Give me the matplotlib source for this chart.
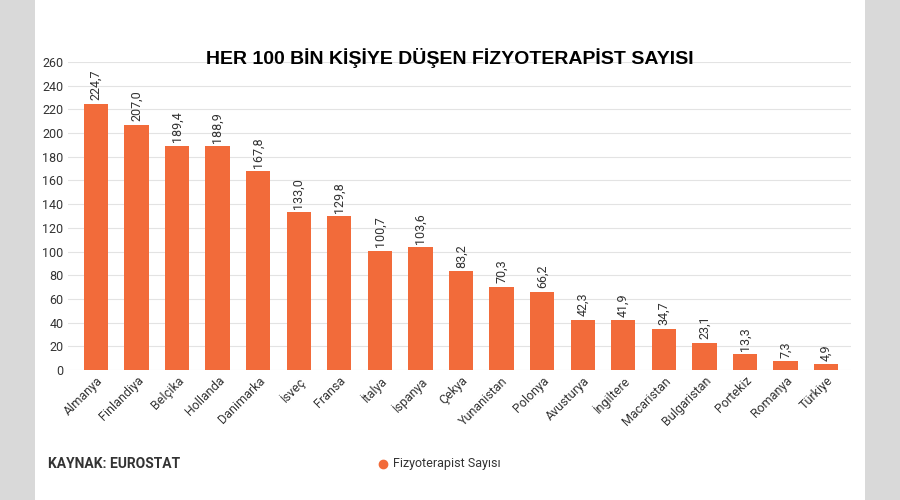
import matplotlib
matplotlib.use("Agg")
import matplotlib.pyplot as plt
from matplotlib.patches import Rectangle
from matplotlib.lines import Line2D

countries = ["Almanya", "Finlandiya", "Belçika", "Hollanda", "Danimarka", "İsveç",
             "Fransa", "İtalya", "İspanya", "Çekya", "Yunanistan", "Polonya",
             "Avusturya", "İngiltere", "Macaristan", "Bulgaristan", "Portekiz",
             "Romanya", "Türkiye"]
values = [224.7, 207.0, 189.4, 188.9, 167.8, 133.0, 129.8, 100.7, 103.6, 83.2,
          70.3, 66.2, 42.3, 41.9, 34.7, 23.1, 13.3, 7.3, 4.9]
yticks = list(range(0, 261, 20))

bar_color = "#F26B3A"

fig = plt.figure(figsize=(9, 5), dpi=100, facecolor="#d9d9d9")
# white card in the middle, blurred sides approximated with grey
fig.add_artist(Rectangle((0.039, 0), 0.922, 1, transform=fig.transFigure,
                         facecolor="white", edgecolor="none", zorder=-5))

ax = fig.add_axes([0.075, 0.26, 0.87, 0.616])
ax.set_zorder(1)
ax.set_facecolor("white")
x = range(len(countries))
ax.bar(x, values, width=0.6, color=bar_color, zorder=3)
for i, v in zip(x, values):
    ax.text(i, v + 3, f"{v:.1f}".replace(".", ","), rotation=90, ha="center",
            va="bottom", fontsize=9, color="#333333", family="Roboto")

ax.set_ylim(0, 260)
ax.set_xlim(-0.7, len(countries) - 0.4)
ax.set_yticks(yticks)
ax.set_yticklabels([str(t) for t in yticks], fontsize=9, color="#333333", family="Roboto")
ax.yaxis.grid(True, color="#e3e3e3", linewidth=0.8, zorder=0)
ax.set_axisbelow(True)
ax.set_xticks(list(x))
ax.set_xticklabels(countries, rotation=45, ha="right", rotation_mode="anchor",
                   fontsize=9, color="#333333", family="Roboto")
ax.tick_params(length=0, pad=3)
for s in ax.spines.values():
    s.set_visible(False)

fig.text(0.5, 0.885, "HER 100 BİN KİŞİYE DÜŞEN FİZYOTERAPİST SAYISI",
         ha="center", va="center", fontsize=14, fontweight="bold", family="Liberation Sans")
fig.text(0.053, 0.073, "KAYNAK: EUROSTAT", fontsize=10, fontweight="bold",
         color="#333333", va="center", family="Roboto")
fig.add_artist(Line2D([0.426], [0.072], transform=fig.transFigure, marker="o",
                      markersize=6, color=bar_color, linestyle="none"))
fig.text(0.437, 0.072, "Fizyoterapist Sayısı", fontsize=9, color="#333333",
         va="center", family="Roboto")

fig.savefig("out.png", dpi=100, facecolor=fig.get_facecolor())
